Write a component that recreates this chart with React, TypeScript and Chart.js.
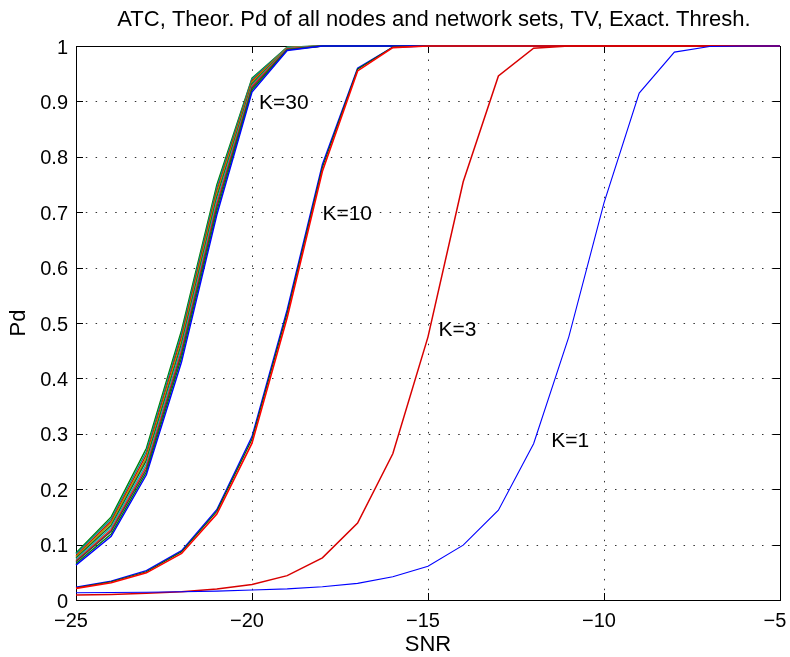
import React, { useEffect, useRef } from 'react';
import { Chart, registerables } from 'chart.js';

Chart.register(...registerables);

// SNR grid (dB) shared by every curve
const snr = [-25, -24, -23, -22, -21, -20, -19, -18, -17, -16, -15, -14, -13, -12, -11, -10, -9, -8, -7, -6, -5];

// K = 1
const k1Blue = [0.013, 0.0135, 0.014, 0.015, 0.016, 0.018, 0.020, 0.024, 0.030, 0.042, 0.061, 0.099, 0.162, 0.282, 0.475, 0.717, 0.915, 0.989, 0.999, 1, 1];

// K = 3
const k3Red = [0.009, 0.010, 0.012, 0.015, 0.020, 0.028, 0.044, 0.076, 0.139, 0.264, 0.475, 0.755, 0.946, 0.996, 1, 1, 1, 1, 1, 1, 1];

// K = 10
const k10Blue = [0.023, 0.034, 0.053, 0.089, 0.163, 0.295, 0.524, 0.786, 0.960, 0.998, 1, 1, 1, 1, 1, 1, 1, 1, 1, 1, 1];
const k10Green = [0.022, 0.033, 0.051, 0.087, 0.160, 0.290, 0.518, 0.781, 0.958, 0.998, 1, 1, 1, 1, 1, 1, 1, 1, 1, 1, 1];
const k10Red = [0.021, 0.031, 0.049, 0.084, 0.155, 0.283, 0.510, 0.774, 0.955, 0.997, 1, 1, 1, 1, 1, 1, 1, 1, 1, 1, 1];

// K = 30, one curve per node / network set
const k30a = [0.085, 0.150, 0.274, 0.487, 0.749, 0.942, 0.998, 1, 1, 1, 1, 1, 1, 1, 1, 1, 1, 1, 1, 1, 1];
const k30b = [0.083, 0.146, 0.268, 0.481, 0.744, 0.940, 0.998, 1, 1, 1, 1, 1, 1, 1, 1, 1, 1, 1, 1, 1, 1];
const k30c = [0.080, 0.142, 0.262, 0.475, 0.738, 0.937, 0.997, 1, 1, 1, 1, 1, 1, 1, 1, 1, 1, 1, 1, 1, 1];
const k30d = [0.078, 0.139, 0.257, 0.469, 0.733, 0.935, 0.997, 1, 1, 1, 1, 1, 1, 1, 1, 1, 1, 1, 1, 1, 1];
const k30e = [0.076, 0.135, 0.252, 0.463, 0.727, 0.932, 0.996, 1, 1, 1, 1, 1, 1, 1, 1, 1, 1, 1, 1, 1, 1];
const k30f = [0.073, 0.131, 0.246, 0.457, 0.721, 0.929, 0.996, 1, 1, 1, 1, 1, 1, 1, 1, 1, 1, 1, 1, 1, 1];
const k30g = [0.071, 0.127, 0.241, 0.451, 0.715, 0.927, 0.995, 1, 1, 1, 1, 1, 1, 1, 1, 1, 1, 1, 1, 1, 1];
const k30h = [0.069, 0.124, 0.236, 0.445, 0.709, 0.924, 0.994, 1, 1, 1, 1, 1, 1, 1, 1, 1, 1, 1, 1, 1, 1];
const k30i = [0.066, 0.119, 0.231, 0.438, 0.702, 0.921, 0.993, 1, 1, 1, 1, 1, 1, 1, 1, 1, 1, 1, 1, 1, 1];
const k30j = [0.063, 0.115, 0.226, 0.430, 0.695, 0.917, 0.992, 1, 1, 1, 1, 1, 1, 1, 1, 1, 1, 1, 1, 1, 1];

const k30Series = [k30a, k30b, k30c, k30d, k30e, k30f, k30g, k30h, k30i, k30j];
const k30Colors = ['#007f00', '#009999', '#e00000', '#a8a800', '#1f5f1f', '#00bfbf', '#ff1a1a', '#404040', '#008000', '#0000ff'];

// Axis ticks
const xTicks = [-25, -20, -15, -10, -5];
const xTickLabels = ['\u221225', '\u221220', '\u221215', '\u221210', '\u22125'];
const yTicks = [0, 0.1, 0.2, 0.3, 0.4, 0.5, 0.6, 0.7, 0.8, 0.9, 1];
const yTickLabels = ['0', '0.1', '0.2', '0.3', '0.4', '0.5', '0.6', '0.7', '0.8', '0.9', '1'];

// Curve annotations
const annoText = ['K=30', 'K=10', 'K=3', 'K=1'];
const annoX = [-19.8, -18, -14.7, -11.5];
const annoY = [0.9, 0.7, 0.49, 0.29];

const titleText = 'ATC, Theor. Pd of all nodes and network sets, TV, Exact. Thresh.';
const xLabel = 'SNR';
const yLabel = 'Pd';

const FONT = '"Liberation Sans", Arial, Helvetica, sans-serif';

const toPoints = (ys: number[]) => snr.map((x, i) => ({ x, y: ys[i] }));

const line = (ys: number[], color: string, width = 1.3) => ({
  data: toPoints(ys),
  borderColor: color,
  backgroundColor: color,
  borderWidth: width,
  pointRadius: 0,
  fill: false,
  tension: 0,
  clip: false as const,
});

const axesPlugin = {
  id: 'matlabAxes',
  beforeDraw(chart: any) {
    const { ctx } = chart;
    ctx.save();
    ctx.fillStyle = '#ffffff';
    ctx.fillRect(0, 0, chart.width, chart.height);
    ctx.restore();
  },
  beforeDatasetsDraw(chart: any) {
    const { ctx, chartArea: a, scales } = chart;
    const xs = scales.x;
    const ys = scales.y;
    ctx.save();
    // dotted grid
    ctx.strokeStyle = 'rgba(0,0,0,0.8)';
    ctx.lineWidth = 1;
    ctx.setLineDash([1.5, 8.3]);
    xTicks.forEach((v) => {
      const px = Math.round(xs.getPixelForValue(v)) + 0.5;
      if (px <= a.left + 1 || px >= a.right - 1) return;
      ctx.beginPath();
      ctx.moveTo(px, a.bottom);
      ctx.lineTo(px, a.top);
      ctx.stroke();
    });
    yTicks.forEach((v) => {
      const py = Math.round(ys.getPixelForValue(v)) + 0.5;
      if (py <= a.top + 1 || py >= a.bottom - 1) return;
      ctx.beginPath();
      ctx.moveTo(a.left, py);
      ctx.lineTo(a.right, py);
      ctx.stroke();
    });
    ctx.setLineDash([]);
    // box
    ctx.strokeStyle = '#000';
    ctx.lineWidth = 1;
    ctx.strokeRect(Math.round(a.left) + 0.5, Math.round(a.top) + 0.5, Math.round(a.right - a.left), Math.round(a.bottom - a.top));
    // inward tick marks on all four sides
    const len = 7;
    xTicks.forEach((v) => {
      const px = Math.round(xs.getPixelForValue(v)) + 0.5;
      ctx.beginPath();
      ctx.moveTo(px, a.bottom);
      ctx.lineTo(px, a.bottom - len);
      ctx.moveTo(px, a.top);
      ctx.lineTo(px, a.top + len);
      ctx.stroke();
    });
    yTicks.forEach((v) => {
      const py = Math.round(ys.getPixelForValue(v)) + 0.5;
      ctx.beginPath();
      ctx.moveTo(a.left, py);
      ctx.lineTo(a.left + len, py);
      ctx.moveTo(a.right, py);
      ctx.lineTo(a.right - len, py);
      ctx.stroke();
    });
    ctx.restore();
  },
  afterDraw(chart: any) {
    const { ctx, chartArea: a, scales } = chart;
    const xs = scales.x;
    const ys = scales.y;
    ctx.save();
    ctx.fillStyle = '#000';
    ctx.textBaseline = 'alphabetic';

    // tick labels
    ctx.font = `20px ${FONT}`;
    ctx.textAlign = 'center';
    xTicks.forEach((v, i) => {
      ctx.fillText(xTickLabels[i], xs.getPixelForValue(v) - 5, a.bottom + 27);
    });
    ctx.textAlign = 'right';
    yTicks.forEach((v, i) => {
      ctx.fillText(yTickLabels[i], a.left - 8, ys.getPixelForValue(v) + 7.5);
    });

    // curve annotations
    ctx.font = `21px ${FONT}`;
    ctx.textAlign = 'left';
    annoText.forEach((t, i) => {
      ctx.fillText(t, xs.getPixelForValue(annoX[i]), ys.getPixelForValue(annoY[i]) + 7.5);
    });

    // title and axis labels
    ctx.font = `22px ${FONT}`;
    ctx.textAlign = 'center';
    ctx.fillText(titleText, (a.left + a.right) / 2 + 6, 26);
    ctx.fillText(xLabel, (a.left + a.right) / 2, 651);
    ctx.translate(25, (a.top + a.bottom) / 2);
    ctx.rotate(-Math.PI / 2);
    ctx.fillText(yLabel, 0, 0);
    ctx.restore();
  },
};

export default function App() {
  const canvasRef = useRef<HTMLCanvasElement | null>(null);

  useEffect(() => {
    const canvas = canvasRef.current;
    if (!canvas) return;
    // Listed in plotting order: later curves end up on top
    const plotted: any[] = [];
    k30Series.forEach((s, i) => plotted.push(line(s, k30Colors[i], 1.4)));
    plotted.push(line(k10Blue, '#0000ff', 1.4));
    plotted.push(line(k10Green, '#006400', 1.2));
    plotted.push(line(k10Red, '#ff0000', 1.6));
    plotted.push(line(k3Red, '#d80000', 1.5));
    plotted.push(line(k1Blue, '#0000ff', 1.1));
    // Chart.js paints the first dataset last, so hand them over reversed
    const datasets = plotted.slice().reverse();

    const chart = new Chart(canvas, {
      type: 'line',
      data: { datasets },
      options: {
        responsive: false,
        animation: false,
        devicePixelRatio: 1,
        events: [],
        layout: { padding: { left: 76, top: 46, right: 10, bottom: 57 } },
        plugins: { legend: { display: false }, tooltip: { enabled: false }, title: { display: false } },
        scales: {
          x: { type: 'linear', min: -25, max: -5, display: false },
          y: { type: 'linear', min: 0, max: 1, display: false },
        },
      },
      plugins: [axesPlugin],
    });
    return () => chart.destroy();
  }, []);

  return (
    <div style={{ position: 'fixed', left: 0, top: 0, width: 790, height: 657, background: '#fff' }}>
      <canvas ref={canvasRef} width={790} height={657} style={{ display: 'block', width: 790, height: 657 }} />
    </div>
  );
}
